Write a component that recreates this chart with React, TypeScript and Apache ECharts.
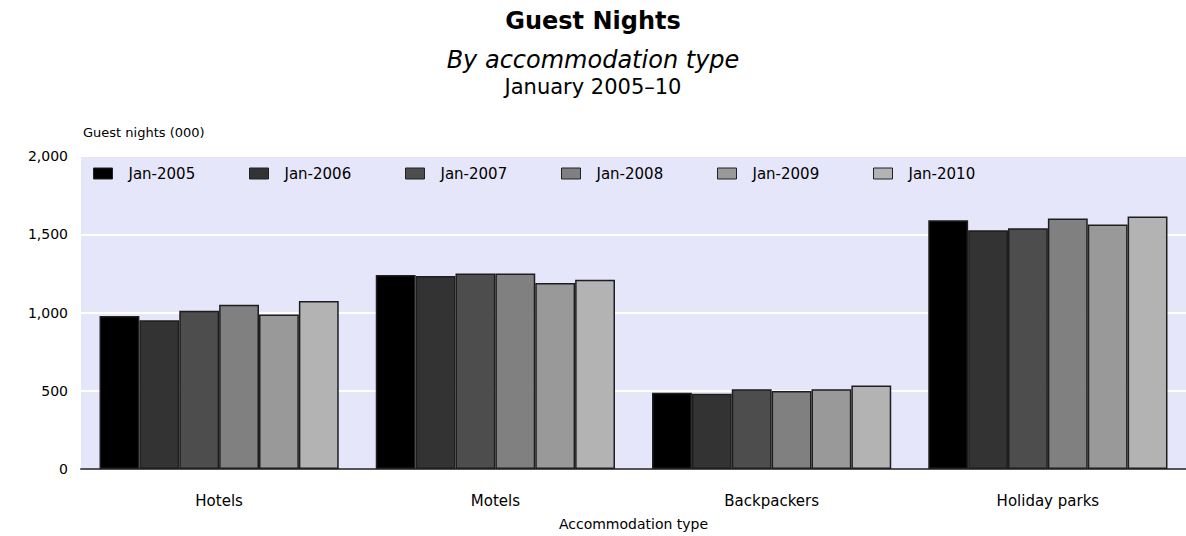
import React, { useEffect, useRef } from "react";
import * as echarts from "echarts";

const categories = ["Hotels", "Motels", "Backpackers", "Holiday parks"];
const seriesNames = ["Jan-2005", "Jan-2006", "Jan-2007", "Jan-2008", "Jan-2009", "Jan-2010"];
const jan2005 = [977, 1240, 487, 1590];
const jan2006 = [950, 1233, 481, 1525];
const jan2007 = [1011, 1250, 510, 1538];
const jan2008 = [1050, 1250, 498, 1600];
const jan2009 = [988, 1188, 510, 1563];
const jan2010 = [1073, 1210, 533, 1613];
const seriesValues = [jan2005, jan2006, jan2007, jan2008, jan2009, jan2010];
const seriesColors = ["#000000", "#333333", "#4d4d4d", "#808080", "#999999", "#b3b3b3"];
const legendLefts = [88, 244, 400, 556, 712, 868];

const FONT = "DejaVu Sans";

export default function App() {
  const ref = useRef<HTMLDivElement>(null);
  useEffect(() => {
    if (!ref.current) return;
    const chart = echarts.init(ref.current, null, { renderer: "svg" });
    chart.setOption({
      animation: false,
      backgroundColor: "#ffffff",
      title: [
        {
          text: "Guest Nights",
          left: "center",
          top: 4,
          textStyle: { fontFamily: FONT, fontSize: 24, fontWeight: "bold", color: "#000" },
        },
        {
          text: "By accommodation type",
          left: "center",
          top: 43,
          textStyle: { fontFamily: FONT, fontSize: 24, fontStyle: "italic", fontWeight: "normal", color: "#000" },
        },
        {
          text: "January 2005–10",
          left: "center",
          top: 71,
          textStyle: { fontFamily: FONT, fontSize: 21, fontWeight: "normal", color: "#000" },
        },
      ],
      legend: seriesNames.map((name, i) => ({
        data: [name],
        left: legendLefts[i],
        top: 161,
        orient: "horizontal",
        itemWidth: 19,
        itemHeight: 11,
        icon: "rect",
        itemStyle: { borderColor: "#222", borderWidth: 1 },
        textStyle: { fontFamily: FONT, fontSize: 15, color: "#000", padding: [0, 0, 0, 11] },
        selectedMode: false,
      })),
      grid: {
        left: 81,
        right: 0,
        top: 156,
        bottom: 64,
        show: true,
        backgroundColor: "#e6e6fa",
        borderWidth: 0,
      },
      xAxis: {
        type: "category",
        data: categories,
        name: "Accommodation type",
        nameLocation: "middle",
        nameGap: 48,
        nameTextStyle: { fontFamily: FONT, fontSize: 14, color: "#000" },
        axisLine: { show: true, lineStyle: { color: "#555", width: 2 } },
        axisTick: { show: false },
        axisLabel: { fontFamily: FONT, fontSize: 15, color: "#000", margin: 24 },
        splitLine: { show: false },
      },
      yAxis: {
        type: "value",
        min: 0,
        max: 2000,
        interval: 500,
        name: "Guest nights (000)",
        nameLocation: "end",
        nameGap: 24,
        nameTextStyle: { fontFamily: FONT, fontSize: 13, color: "#000", align: "left", verticalAlign: "middle", padding: [0, 0, 0, 2] },
        axisLine: { show: false },
        axisTick: { show: false },
        axisLabel: {
          fontFamily: FONT,
          fontSize: 14,
          color: "#000",
          margin: 13,
          formatter: (v: number) => v.toLocaleString("en-US"),
        },
        splitLine: { show: true, lineStyle: { color: "#ffffff", width: 2 } },
      },
      series: seriesNames.map((name, i) => ({
        name,
        type: "bar",
        data: seriesValues[i],
        barGap: "0%",
        barCategoryGap: "13.4%",
        itemStyle: { color: seriesColors[i], borderColor: "#1e1e1e", borderWidth: 1.5 },
      })),
    });
    return () => chart.dispose();
  }, []);
  return (
    <div
      ref={ref}
      style={{ position: "absolute", left: 0, top: 0, width: 1186, height: 536 }}
    />
  );
}
